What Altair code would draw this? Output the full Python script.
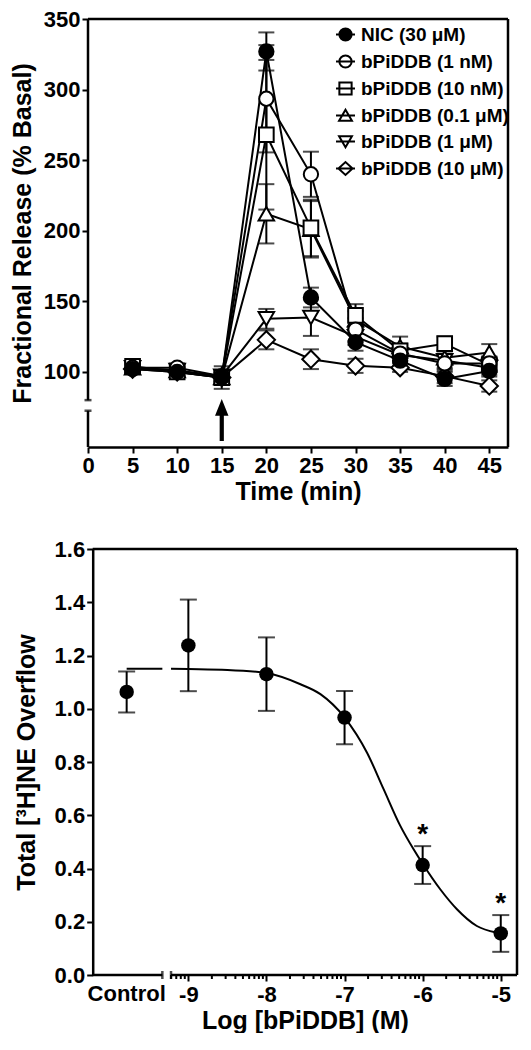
import math
import altair as alt
import pandas as pd

FONT = "Liberation Sans"

# ---------------- Top panel data ----------------
times = [5, 10, 15, 20, 25, 30, 35, 40, 45]
series_names = ["NIC (30 μM)", "bPiDDB (1 nM)", "bPiDDB (10 nM)",
                "bPiDDB (0.1 μM)", "bPiDDB (1 μM)", "bPiDDB (10 μM)"]
nic_mean = [102, 100, 96, 327, 152.7, 121, 108, 95, 100.7]
nic_err = [3, 3, 3, 13.5, 7, 6, 4, 5, 4]
b1nm_mean = [103, 103, 97, 293.5, 240, 130, 113, 106, 106]
b1nm_err = [3, 3, 3, 38, 16, 8, 5, 5, 5]
b10nm_mean = [104, 100, 96, 268, 202, 140, 115, 120, 105]
b10nm_err = [3, 3, 3, 53, 20, 8, 5, 5, 5]
b01um_mean = [103, 101, 96, 212, 201, 137, 118, 110, 113.7]
b01um_err = [3, 3, 8, 21, 20, 6, 7, 5, 6]
b1um_mean = [103, 101, 97, 137.6, 138.5, 125, 112, 108, 103]
b1um_err = [3, 3, 3, 7, 13, 6, 5, 5, 5]
b10um_mean = [102, 100, 96, 122.7, 109, 104.3, 103, 97, 90]
b10um_err = [3, 3, 3, 6.7, 7, 5, 3, 5, 4]

means = [nic_mean, b1nm_mean, b10nm_mean, b01um_mean, b1um_mean, b10um_mean]
errs = [nic_err, b1nm_err, b10nm_err, b01um_err, b1um_err, b10um_err]
shapes = ["circle", "circle", "square", "triangle-up", "triangle-down", "diamond"]
fills = ["black", "white", "white", "white", "white", "white"]
sizes = [205, 205, 215, 240, 240, 300]
line_through = "M-1.55,0L1.55,0"
legend_paths = [
    "M-1,0A1,1,0,1,1,1,0A1,1,0,1,1,-1,0Z" + line_through,
    "M-1,0A1,1,0,1,1,1,0A1,1,0,1,1,-1,0Z" + line_through,
    "M-1,-1L1,-1L1,1L-1,1Z" + line_through,
    "M0,-0.95L1.05,0.85L-1.05,0.85Z" + line_through,
    "M0,0.95L1.05,-0.85L-1.05,-0.85Z" + line_through,
    "M-1.15,0L0,-1.05L1.15,0L0,1.05Z" + line_through,
]

rows = []
for s, name in enumerate(series_names):
    for i, t in enumerate(times):
        m, e = means[s][i], errs[s][i]
        rows.append({"series": name, "time": t, "mean": m, "lo": m - e, "hi": m + e,
                     "shape": shapes[s], "fill": fills[s], "size": sizes[s], "k": s})
top_df = pd.DataFrame(rows)

arrow_time = [15]
arrow_mid = [66]
y_break = [80, 72.5]

TW, TH = 420, 428
ty_dom = [46.8, 350]
tx_dom = [0, 47.1]

tx = alt.X("time:Q", scale=alt.Scale(domain=tx_dom, nice=False, zero=False),
           axis=alt.Axis(values=list(range(0, 50, 5)), title="Time (min)", domain=True,
                         titlePadding=3))
ty = alt.Y("mean:Q", scale=alt.Scale(domain=ty_dom, nice=False, zero=False),
           axis=alt.Axis(values=list(range(100, 351, 50)), title="Fractional Release (% Basal)",
                         domain=False, titlePadding=8))

base = alt.Chart(top_df)
t_lines = base.mark_line(color="black", strokeWidth=2).encode(
    x=tx, y=ty, detail="series:N", order="time:Q")
t_rules = base.mark_rule(color="black", strokeWidth=2).encode(
    x="time:Q", y="lo:Q", y2="hi:Q")
t_cap_lo = base.mark_tick(orient="horizontal", color="black", thickness=2, size=16).encode(
    x="time:Q", y="lo:Q")
t_cap_hi = base.mark_tick(orient="horizontal", color="black", thickness=2, size=16).encode(
    x="time:Q", y="hi:Q")
t_points = base.mark_point(opacity=1, stroke="black", strokeWidth=2).encode(
    x="time:Q", y="mean:Q",
    shape=alt.Shape("shape:N", scale=None, legend=None),
    fill=alt.Fill("fill:N", scale=None, legend=None),
    size=alt.Size("size:Q", scale=None, legend=None),
    order=alt.Order("k:Q", sort="descending"))

leg = alt.Legend(title=None, orient="none", legendX=248, legendY=6,
                 labelFont=FONT, labelFontSize=19, labelFontWeight="bold", labelColor="black",
                 symbolSize=150, symbolStrokeWidth=2,
                 labelOffset=6, rowPadding=6, symbolOffset=0, padding=0)
t_legend = base.mark_point(opacity=1, strokeWidth=2).encode(
    x="time:Q", y="mean:Q",
    shape=alt.Shape("series:N", scale=alt.Scale(domain=series_names, range=legend_paths), legend=leg),
    fill=alt.Fill("series:N", scale=alt.Scale(domain=series_names, range=fills), legend=leg),
    stroke=alt.Stroke("series:N", scale=alt.Scale(domain=series_names, range=["black"] * 6), legend=leg),
).transform_filter("false")

one = pd.DataFrame({"a": [0]})
yseg = pd.DataFrame({"y": [ty_dom[1], y_break[1]], "y2": [y_break[0], ty_dom[0]]})
t_yaxis = alt.Chart(yseg).mark_rule(color="black", strokeWidth=2.5).encode(
    x=alt.value(0), y="y:Q", y2="y2:Q")
t_breaks = alt.Chart(pd.DataFrame({"y": y_break})).mark_tick(
    orient="horizontal", color="black", thickness=2.5, size=7).encode(x=alt.value(0), y="y:Q")
t_topb = alt.Chart(one).mark_rule(color="black", strokeWidth=2.5).encode(
    x=alt.value(0), x2=alt.value(TW), y=alt.value(0))
t_rightb = alt.Chart(one).mark_rule(color="black", strokeWidth=2.5).encode(
    x=alt.value(TW), y=alt.value(0), y2=alt.value(TH))
arrow_path = "M-0.1,1L0.1,1L0.1,-0.2L0.32,-0.2L0,-1L-0.32,-0.2L-0.1,-0.2Z"
t_arrow = alt.Chart(pd.DataFrame({"t": arrow_time, "v": arrow_mid})).mark_point(
    shape=arrow_path, size=1764, filled=True, color="black", opacity=1, strokeWidth=0).encode(
    x="t:Q", y="v:Q")

top = alt.layer(t_lines, t_rules, t_cap_lo, t_cap_hi, t_points, t_legend,
                t_yaxis, t_breaks, t_topb, t_rightb, t_arrow).resolve_scale(
    shape="independent", fill="independent", size="independent", stroke="independent"
).properties(width=TW, height=TH)

# ---------------- Bottom panel data ----------------
control_pos = -9.79
control_mean = [1.063]
control_err = [0.077]
log_conc = [-9, -8, -7, -6, -5]
overflow_mean = [1.238, 1.130, 0.967, 0.413, 0.156]
overflow_err = [0.172, 0.138, 0.10, 0.071, 0.069]
significant = [False, False, False, True, True]

curve_x = [-9.79, -9.333, -9.222, -9.0, -8.5, -8.0, -7.565, -7.309, -6.999, -6.712, -6.50,
           -6.286, -6.116, -5.996, -5.775, -5.561, -5.306, -5.05, -4.995]
curve_y = [1.150, 1.150, 1.150, 1.149, 1.146, 1.134, 1.092, 1.055, 0.967, 0.835, 0.698,
           0.560, 0.472, 0.416, 0.322, 0.247, 0.184, 0.159, 0.156]
curve_seg = [0, 0] + [1] * (len(curve_x) - 2)

# the bottom frame starts ~5 px right of the top panel's frame
SHIFT = 4.7
BW, BH = 429, 426
bx_axis_left = -10.225
bx_dom = [-10.285, -4.792]
x_break = [-9.333, -9.222]

pts = pd.DataFrame({
    "x": [control_pos] + log_conc,
    "m": control_mean + overflow_mean,
    "e": control_err + overflow_err,
    "sig": [False] + significant,
})
pts["lo"] = pts["m"] - pts["e"]
pts["hi"] = pts["m"] + pts["e"]
curve = pd.DataFrame({"x": curve_x, "y": curve_y, "seg": curve_seg})

bx = alt.X("x:Q", scale=alt.Scale(domain=bx_dom, nice=False, zero=False),
           axis=alt.Axis(values=log_conc, labelExpr="'' + datum.value", domain=False,
                         title="Log [bPiDDB] (M)", titlePadding=3, labelPadding=3,
                         titleX=(BW + SHIFT) / 2))
by = alt.Y("y:Q", scale=alt.Scale(domain=[0, 1.6], nice=False),
           axis=alt.Axis(values=[round(0.2 * i, 1) for i in range(9)], format=".1f",
                         title="Total [³H]NE Overflow", domain=True, titlePadding=15,
                         offset=-SHIFT))

b_curve = alt.Chart(curve).mark_line(color="black", strokeWidth=2, interpolate="monotone").encode(
    x=bx, y=by, detail="seg:N", order="x:Q")
pb = alt.Chart(pts)
b_rules = pb.mark_rule(color="black", strokeWidth=2).encode(x="x:Q", y="lo:Q", y2="hi:Q")
b_cap_lo = pb.mark_tick(orient="horizontal", color="black", thickness=2, size=17).encode(
    x="x:Q", y="lo:Q")
b_cap_hi = pb.mark_tick(orient="horizontal", color="black", thickness=2, size=17).encode(
    x="x:Q", y="hi:Q")
b_points = pb.mark_point(filled=True, color="black", opacity=1, size=210).encode(
    x="x:Q", y="m:Q")
b_star = pb.transform_filter("datum.sig").mark_text(
    text="*", font=FONT, fontSize=28, fontWeight="bold", baseline="alphabetic", dy=-3,
    color="black").encode(x="x:Q", y="hi:Q")
b_ctrl = alt.Chart(pd.DataFrame({"x": [control_pos], "t": ["Control"]})).mark_text(
    font=FONT, fontSize=22, fontWeight="bold", baseline="top", color="black").encode(
    x="x:Q", y=alt.value(BH + 9), text="t:N")

xseg = pd.DataFrame({"x": [bx_axis_left, x_break[1]], "x2": [x_break[0], bx_dom[1]]})
b_xaxis = alt.Chart(xseg).mark_rule(color="black", strokeWidth=2.5).encode(
    x="x:Q", x2="x2:Q", y=alt.value(BH))
b_breaks = alt.Chart(pd.DataFrame({"x": x_break})).mark_tick(
    orient="vertical", color="black", thickness=2.5, size=8).encode(x="x:Q", y=alt.value(BH))
minor = [math.log10(k) + n for n in range(-10, -5) for k in range(2, 10)]
minor = [m for m in minor if x_break[1] - 0.001 <= m <= bx_dom[1]]
b_minor = alt.Chart(pd.DataFrame({"x": minor})).mark_rule(color="black", strokeWidth=2).encode(
    x="x:Q", y=alt.value(BH), y2=alt.value(BH + 4))
b_topb = alt.Chart(one).mark_rule(color="black", strokeWidth=2.5).encode(
    x=alt.value(SHIFT), x2=alt.value(BW), y=alt.value(0))
b_rightb = alt.Chart(one).mark_rule(color="black", strokeWidth=2.5).encode(
    x=alt.value(BW), y=alt.value(0), y2=alt.value(BH))

bottom = alt.layer(b_curve, b_rules, b_cap_lo, b_cap_hi, b_points, b_star, b_ctrl,
                   b_xaxis, b_breaks, b_minor, b_topb, b_rightb
                   ).properties(width=BW, height=BH)

chart = alt.vconcat(top, bottom, spacing=34).properties(
    padding={"left": 2, "top": 0, "right": 0, "bottom": 0}
).configure_view(stroke=None).configure_axis(
    labelFont=FONT, labelFontSize=22, labelFontWeight="bold", labelColor="black",
    titleFont=FONT, titleFontSize=25, titleFontWeight="bold", titleColor="black",
    tickColor="black", tickWidth=2, tickSize=6, domainColor="black", domainWidth=2.5,
    grid=False, labelPadding=2, labelFlush=False, labelOverlap=False
)

chart.save("out.html", embed_options={"renderer": "svg", "actions": False})
